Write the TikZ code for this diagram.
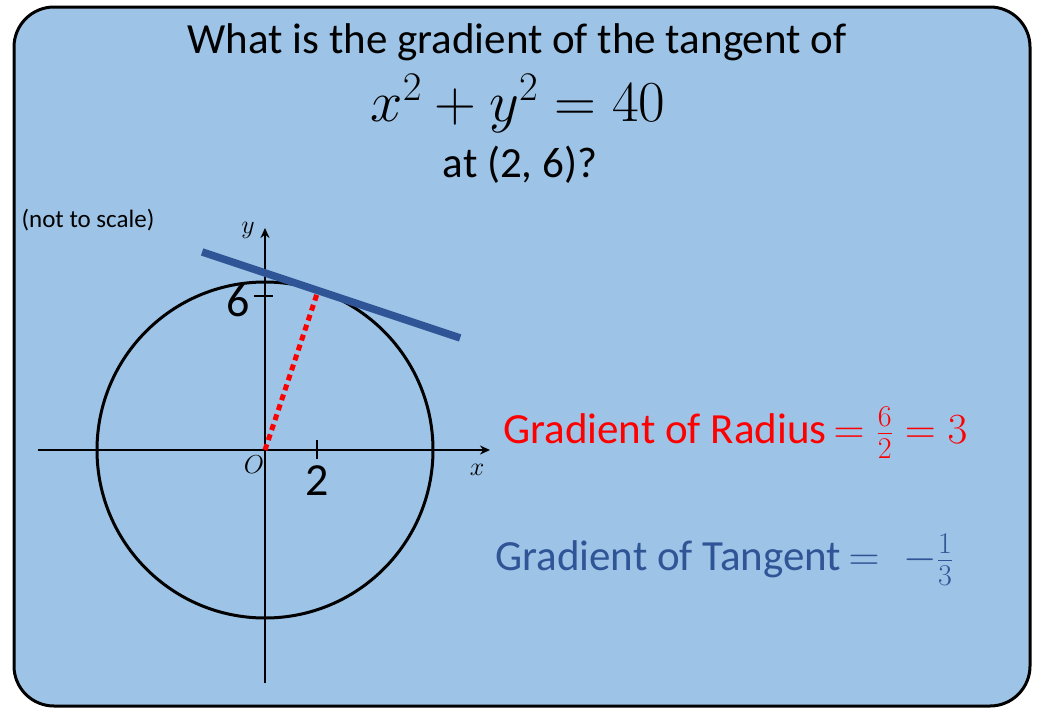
\RequirePackage{fix-cm}
\documentclass[tikz,border=0pt]{standalone}
\usepackage{fontspec}
\setmainfont{Carlito}
\usetikzlibrary{arrows.meta,calc}
\definecolor{cBg}{HTML}{9DC3E6}
\definecolor{cTan}{HTML}{2F5597}
\definecolor{cRad}{HTML}{FF0000}
\tikzset{
  axis/.style={line width=2.5pt,-{Stealth[length=10pt,width=9pt]}},
  tick/.style={line width=2.5pt},
  big/.style={inner sep=0pt,font=\fontsize{43}{50}\selectfont},
  num/.style={inner sep=0pt,font=\fontsize{46}{54}\selectfont},
  var/.style={inner sep=0pt,font=\fontsize{26}{30}\selectfont},
  grad/.style={inner sep=0pt,anchor=west,font=\fontsize{43}{50}\selectfont}
}

\begin{document}
\begin{tikzpicture}[x=1pt,y=-1pt]
  \useasboundingbox (0,0) rectangle (1040,720);
  % card
  \draw[fill=cBg,line width=3pt,rounded corners=40pt] (14,7) rectangle (1030,706);
  % question
  \node[big] (title) at (517,42) {What is the gradient of the tangent of};
  \node[inner sep=0pt,font=\fontsize{58}{66}\selectfont] (eqn) at (518,104) {$x^2+y^2=40$};
  \node[big] (atpt) at (520,165) {at (2, 6)?};
  \node[inner sep=0pt,font=\fontsize{25}{30}\selectfont] (note) at (88,220) {(not to scale)};
  % axes
  \coordinate (O) at (265,450);
  \coordinate (xl) at (38,450); \coordinate (xr) at (490,450);
  \coordinate (yb) at (265,683); \coordinate (yt) at (265,228);
  \draw[axis] (xl) -- (xr);
  \draw[axis] (yb) -- (yt);
  \node[var] (ox) at (477,470) {$x$};
  \node[var] (oy) at (248,230) {$y$};
  \node[var] (oo) at (254,465) {$O$};
  % ticks
  \coordinate (t6a) at (254,296); \coordinate (t6b) at (273,296);
  \coordinate (t2a) at (317,440); \coordinate (t2b) at (317,459);
  \draw[tick] (t6a) -- (t6b);
  \draw[tick] (t2a) -- (t2b);
  \node[num] (six) at (238,301) {6};
  \node[num] (two) at (317,481) {2};
  % circle, radius, tangent
  \draw[line width=3pt] (O) circle (168pt);
  \coordinate (P) at ($(O)+(71.57:168pt)$);
  \coordinate (tl) at ($(P)+(-116,-38.7)$);
  \coordinate (tr) at ($(P)+(142,47.3)$);
  \draw[cRad,line width=5pt,dash pattern=on 6pt off 4.5pt] (O) -- (P);
  \draw[cTan,line width=7.5pt] (tl) -- (tr);
  % gradients
  \node[grad,text=cRad] (radtxt) at (503,433) {Gradient of Radius$\,=\frac{6}{2}=3$};
  \node[grad,text=cTan] (tantxt) at (495,560) {Gradient of Tangent$\,=\;-\frac{1}{3}$};
\end{tikzpicture}
\end{document}
